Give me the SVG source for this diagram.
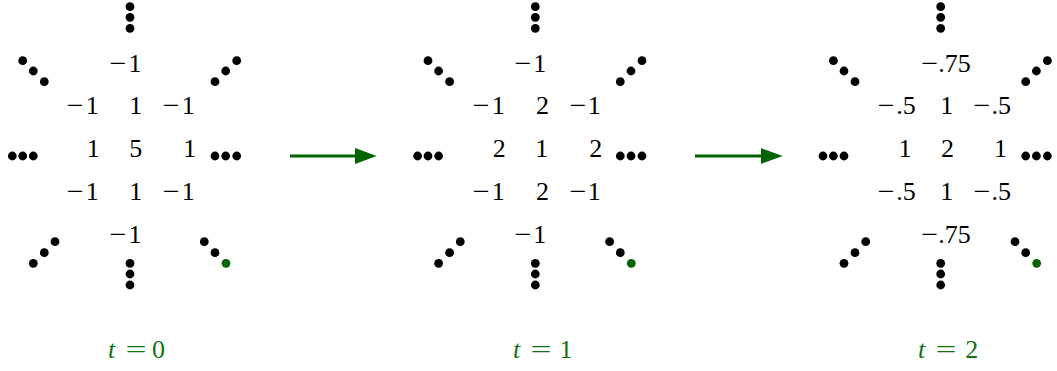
<svg xmlns="http://www.w3.org/2000/svg" xmlns:xlink="http://www.w3.org/1999/xlink" width="1057" height="371" viewBox="0 0 1057 371">
<style>
.n{font-family:"Liberation Serif","Times New Roman",serif;font-size:26px;fill:#000}
.m{text-anchor:middle}
.lab{font-family:"Liberation Serif","Times New Roman",serif;font-size:26px;fill:#137213}
.d{fill:#000}
.g{fill:#006400}
.arr{stroke:#006400;stroke-width:3;fill:none}
</style>
<defs>
<marker id="ah" markerUnits="userSpaceOnUse" viewBox="0 0 22 16" markerWidth="22" markerHeight="16" refX="11.3" refY="8" orient="auto">
<path d="M0,0 L22,8 L0,16 Z" fill="#006400"/>
</marker>
<g id="dots">
<circle class="d" cx="130" cy="6.7" r="4.4"/><circle class="d" cx="130" cy="17.3" r="4.4"/><circle class="d" cx="130" cy="28.3" r="4.4"/>
<circle class="d" cx="22.7" cy="60.7" r="4.4"/><circle class="d" cx="33.3" cy="71" r="4.4"/><circle class="d" cx="44.3" cy="81.7" r="4.4"/>
<circle class="d" cx="215" cy="81.7" r="4.4"/><circle class="d" cx="225.7" cy="71" r="4.4"/><circle class="d" cx="236.7" cy="60.7" r="4.4"/>
<circle class="d" cx="12.3" cy="156" r="4.4"/><circle class="d" cx="22.7" cy="156" r="4.4"/><circle class="d" cx="33.3" cy="156" r="4.4"/>
<circle class="d" cx="215" cy="156" r="4.4"/><circle class="d" cx="225.7" cy="156" r="4.4"/><circle class="d" cx="236.7" cy="156" r="4.4"/>
<circle class="d" cx="33.3" cy="263.3" r="4.4"/><circle class="d" cx="44.3" cy="252.7" r="4.4"/><circle class="d" cx="55" cy="241.7" r="4.4"/>
<circle class="d" cx="204.3" cy="241.7" r="4.4"/><circle class="d" cx="215" cy="252.7" r="4.4"/><circle class="g" cx="226" cy="263.3" r="4.4"/>
<circle class="d" cx="130" cy="263.3" r="4.4"/><circle class="d" cx="130" cy="274" r="4.4"/><circle class="d" cx="130" cy="285" r="4.4"/>
</g>
</defs>

<g id="state-t0">
<use href="#dots" xlink:href="#dots"/>
<text class="n" y="71.5"><tspan x="109.5" textLength="17" lengthAdjust="spacingAndGlyphs">−</tspan><tspan x="128.4">1</tspan></text>
<text class="n" y="113.5"><tspan x="66.8" textLength="17" lengthAdjust="spacingAndGlyphs">−</tspan><tspan x="85.7">1</tspan></text>
<text class="n m" x="135.7" y="113.5">1</text>
<text class="n" y="113.5"><tspan x="162.8" textLength="17" lengthAdjust="spacingAndGlyphs">−</tspan><tspan x="181.7">1</tspan></text>
<text class="n m" x="93.2" y="157.3">1</text>
<text class="n m" x="135.8" y="157.3">5</text>
<text class="n m" x="189.7" y="157.3">1</text>
<text class="n" y="200"><tspan x="66.8" textLength="17" lengthAdjust="spacingAndGlyphs">−</tspan><tspan x="85.7">1</tspan></text>
<text class="n m" x="135.7" y="200">1</text>
<text class="n" y="200"><tspan x="162.8" textLength="17" lengthAdjust="spacingAndGlyphs">−</tspan><tspan x="181.7">1</tspan></text>
<text class="n" y="242.7"><tspan x="109.5" textLength="17" lengthAdjust="spacingAndGlyphs">−</tspan><tspan x="128.4">1</tspan></text>
<text class="lab" y="358.3"><tspan x="108" font-style="italic">t</tspan><tspan x="125.4" textLength="21" lengthAdjust="spacingAndGlyphs">=</tspan><tspan x="152">0</tspan></text>
</g>

<g id="state-t1">
<use href="#dots" xlink:href="#dots" x="405.3"/>
<text class="n" y="71.5"><tspan x="514.5" textLength="17" lengthAdjust="spacingAndGlyphs">−</tspan><tspan x="533.2">1</tspan></text>
<text class="n" y="113.5"><tspan x="472.8" textLength="17" lengthAdjust="spacingAndGlyphs">−</tspan><tspan x="491.7">1</tspan></text>
<text class="n m" x="542.5" y="113.5">2</text>
<text class="n" y="113.5"><tspan x="569.5" textLength="17" lengthAdjust="spacingAndGlyphs">−</tspan><tspan x="587.7">1</tspan></text>
<text class="n m" x="499.2" y="157.3">2</text>
<text class="n m" x="541.7" y="157.3">1</text>
<text class="n m" x="595.8" y="157.3">2</text>
<text class="n" y="200"><tspan x="472.8" textLength="17" lengthAdjust="spacingAndGlyphs">−</tspan><tspan x="491.7">1</tspan></text>
<text class="n m" x="542.5" y="200">2</text>
<text class="n" y="200"><tspan x="569.5" textLength="17" lengthAdjust="spacingAndGlyphs">−</tspan><tspan x="587.7">1</tspan></text>
<text class="n" y="242.7"><tspan x="514.5" textLength="17" lengthAdjust="spacingAndGlyphs">−</tspan><tspan x="533.2">1</tspan></text>
<text class="lab" y="358.3"><tspan x="513" font-style="italic">t</tspan><tspan x="530.4" textLength="21" lengthAdjust="spacingAndGlyphs">=</tspan><tspan x="559.4">1</tspan></text>
</g>

<g id="state-t2">
<use href="#dots" xlink:href="#dots" x="810.7"/>
<text class="n" y="71.5"><tspan x="921.2" textLength="17" lengthAdjust="spacingAndGlyphs">−</tspan><tspan x="938.2">.75</tspan></text>
<text class="n" y="113.5"><tspan x="877.8" textLength="17" lengthAdjust="spacingAndGlyphs">−</tspan><tspan x="896.2">.5</tspan></text>
<text class="n m" x="946.7" y="113.5">1</text>
<text class="n" y="113.5"><tspan x="973.5" textLength="17" lengthAdjust="spacingAndGlyphs">−</tspan><tspan x="991.5">.5</tspan></text>
<text class="n m" x="905" y="157.3">1</text>
<text class="n m" x="947.5" y="157.3">2</text>
<text class="n m" x="1000.5" y="157.3">1</text>
<text class="n" y="200"><tspan x="877.8" textLength="17" lengthAdjust="spacingAndGlyphs">−</tspan><tspan x="896.2">.5</tspan></text>
<text class="n m" x="946.7" y="200">1</text>
<text class="n" y="200"><tspan x="973.5" textLength="17" lengthAdjust="spacingAndGlyphs">−</tspan><tspan x="991.5">.5</tspan></text>
<text class="n" y="242.7"><tspan x="921.2" textLength="17" lengthAdjust="spacingAndGlyphs">−</tspan><tspan x="938.2">.75</tspan></text>
<text class="lab" y="358.3"><tspan x="918" font-style="italic">t</tspan><tspan x="935.4" textLength="21" lengthAdjust="spacingAndGlyphs">=</tspan><tspan x="965.2">2</tspan></text>
</g>

<g id="connectors">
<line class="arr" x1="290" y1="156" x2="366" y2="156" marker-end="url(#ah)"/>
<line class="arr" x1="695" y1="156" x2="772" y2="156" marker-end="url(#ah)"/>
</g>
</svg>
